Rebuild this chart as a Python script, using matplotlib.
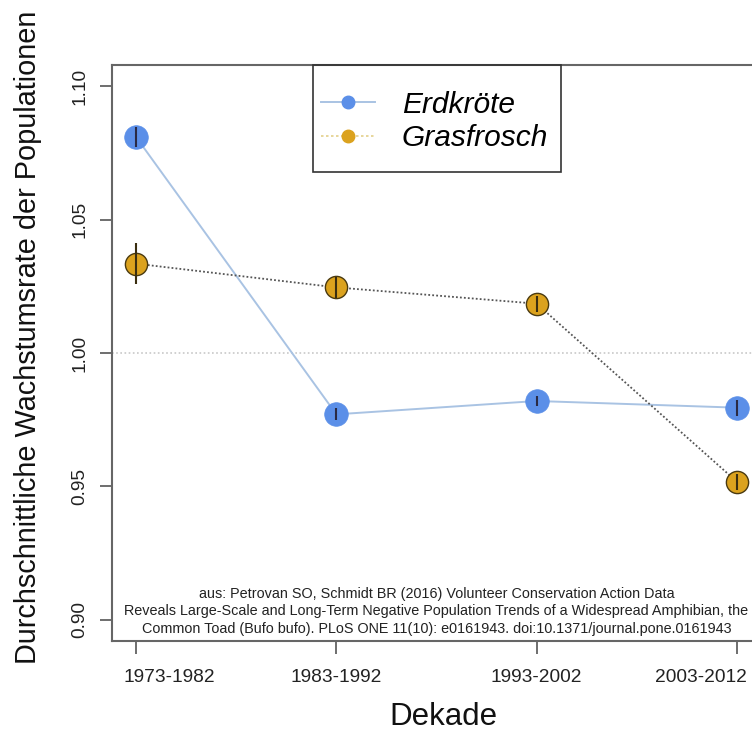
import numpy as np
import matplotlib.pyplot as plt
from matplotlib.lines import Line2D
from matplotlib.patches import Rectangle
from matplotlib.transforms import ScaledTranslation

plt.rcParams["font.family"] = ["Liberation Sans", "DejaVu Sans"]

# mean population growth rate per decade, with error bar half-widths
decades = ["1973-1982", "1983-1992", "1993-2002", "2003-2012"]
erdkroete = [1.081, 0.977, 0.982, 0.9795]
erdkroete_err = [0.0037, 0.0022, 0.0019, 0.0030]
grasfrosch = [1.0335, 1.0246, 1.0185, 0.9517]
grasfrosch_err = [0.0078, 0.0040, 0.0030, 0.0030]
species = ["Erdkröte", "Grasfrosch"]

source = ("aus: Petrovan SO, Schmidt BR (2016) Volunteer Conservation Action Data\n"
          "Reveals Large-Scale and Long-Term Negative Population Trends of a Widespread Amphibian, the\n"
          "Common Toad (Bufo bufo). PLoS ONE 11(10): e0161943. doi:10.1371/journal.pone.0161943")

BLUE = "#5b8fe8"
GOLD = "#dba21e"

W, H = 752, 736
L, R, T, B = 112, 761, 65, 641   # axes box in pixels
fig = plt.figure(figsize=(W / 100, H / 100), dpi=100)
ax = fig.add_axes([L / W, 1 - B / H, (R - L) / W, (B - T) / H])


def ax_xy(px, py):
    """pixel position -> axes fraction"""
    return (px - L) / (R - L), (B - py) / (B - T)


x = np.arange(1, len(decades) + 1)

ax.axhline(1.0, color="#c8c8c8", lw=1.2, ls=(0, (1, 1.5)), zorder=1)

ax.plot(x, erdkroete, color="#a9c3e3", lw=1.4, zorder=2)
ax.plot(x, grasfrosch, color="#555555", lw=1.3, ls=(0, (1, 1.2)), zorder=2)

ax.plot(x, erdkroete, "o", ms=17, mfc=BLUE, mec=BLUE, mew=0.5, zorder=3)
ax.plot(x, grasfrosch, "o", ms=16, mfc=GOLD, mec="#4a3a10", mew=1.0, zorder=3)

# error bars go on top of the points
ax.errorbar(x, erdkroete, yerr=erdkroete_err, fmt="none", ecolor="#2a2a44", elinewidth=1.5, capsize=0, zorder=4)
ax.errorbar(x, grasfrosch, yerr=grasfrosch_err, fmt="none", ecolor="#3a2e10", elinewidth=1.5, capsize=0, zorder=4)

ax.set_xlim(0.88, 4.12)
ax.set_ylim(0.892, 1.108)
ax.set_xticks(x)
ax.set_xticklabels(decades, fontsize=13.8, color="#222222")
ax.set_yticks([0.90, 0.95, 1.00, 1.05, 1.10])
ax.set_yticklabels(["0.90", "0.95", "1.00", "1.05", "1.10"], fontsize=13.8,
                   rotation=90, va="center", color="#222222")

ax.tick_params(axis="x", length=9.5, width=1.2, color="#555555", pad=11)
ax.tick_params(axis="y", length=9, width=1.2, color="#555555", pad=8)

# the outer labels sit a bit inwards
shifts = [24, 0, 0, -26]
for lab, dx in zip(ax.get_xticklabels(), shifts):
    lab.set_transform(lab.get_transform() + ScaledTranslation(dx / 72, 0, fig.dpi_scale_trans))

for s in ax.spines.values():
    s.set_color("#666666")
    s.set_linewidth(1.5)

ax.set_xlabel("Dekade", fontsize=22.5, color="#111111")
ax.xaxis.set_label_coords(*ax_xy(443, 702))
ax.set_ylabel("Durchschnittliche Wachstumsrate der Populationen", fontsize=20.8,
              color="#111111")
ax.yaxis.set_label_coords(*ax_xy(42, 337))

ax.text(0.5, ax_xy(0, 636)[1], source, transform=ax.transAxes, ha="center", va="bottom",
        fontsize=10.4, linespacing=1.32, color="#222222")

handles = [
    Line2D([], [], color="#a9c3e3", lw=1.4, marker="o", ms=9, mfc=BLUE, mec=BLUE),
    Line2D([], [], color="#e3cf8a", lw=1.2, ls=(0, (1.5, 1.5)), marker="o", ms=9, mfc=GOLD, mec=GOLD),
]
leg = ax.legend(handles, species, loc="center left", bbox_to_anchor=ax_xy(321, 121.5),
                prop={"size": 21.5, "style": "italic"}, frameon=False,
                borderpad=0, handlelength=1.8, handletextpad=0.9, labelspacing=0.2,
                borderaxespad=0)

# legend box drawn separately so it can be taller than the entries need
bx0, by0 = ax_xy(313, 172)
bx1, by1 = ax_xy(561, 65)
ax.add_patch(Rectangle((bx0, by0), bx1 - bx0, by1 - by0, transform=ax.transAxes,
                       fill=False, ec="#333333", lw=1.2, zorder=5, clip_on=False))

fig.savefig("out.png", dpi=100)
